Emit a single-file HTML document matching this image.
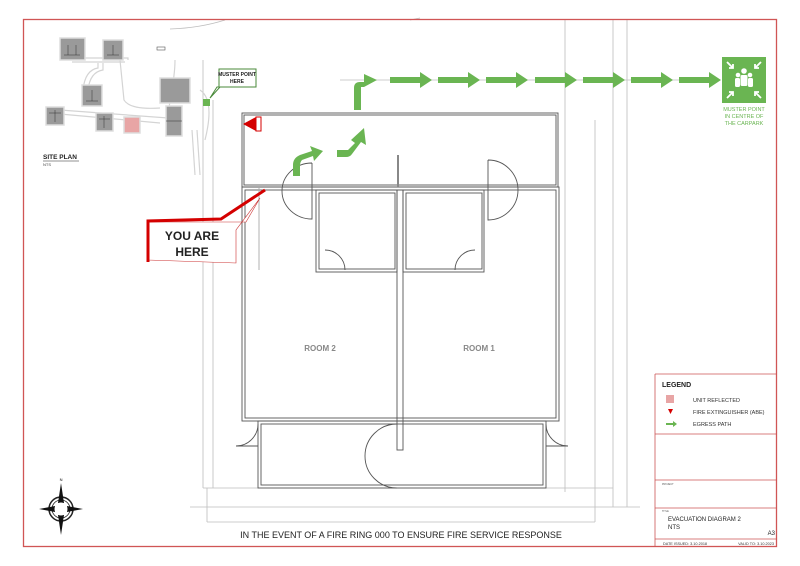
<!DOCTYPE html>
<html><head><meta charset="utf-8"><style>
html,body{margin:0;padding:0;background:#fff;}
svg{display:block;font-family:"Liberation Sans",sans-serif;}
</style></head><body>
<svg width="800" height="566" viewBox="0 0 800 566" xmlns="http://www.w3.org/2000/svg">
<rect width="800" height="566" fill="#fff"/>
<g stroke="#bdbdbd" stroke-width="0.8" fill="none">
<path d="M170 29 Q200 28 225 20"/>
<path d="M410 20 L420 18"/>
<line x1="203" y1="60" x2="203" y2="488"/>
<line x1="213" y1="100" x2="213" y2="488"/>
<line x1="565" y1="19" x2="565" y2="492"/>
<line x1="595" y1="120" x2="595" y2="522"/>
<line x1="613" y1="19" x2="613" y2="507"/>
<line x1="627" y1="19" x2="627" y2="507"/>
<line x1="203" y1="488" x2="613" y2="488"/>
<line x1="190" y1="507" x2="640" y2="507"/>
<line x1="207" y1="488" x2="207" y2="522"/>
<line x1="207" y1="522" x2="595" y2="522"/>
<line x1="340" y1="80" x2="720" y2="80"/>
</g>
<g stroke="#555" stroke-width="0.9" fill="none">
<rect x="242" y="113" width="316" height="74"/>
<rect x="244" y="115" width="312" height="70"/>
<rect x="242" y="187" width="317" height="234"/>
<rect x="245" y="190" width="311" height="228"/>
<rect x="397" y="190" width="6" height="260"/>
<rect x="316" y="190" width="81" height="82"/>
<rect x="319" y="193" width="76" height="76"/>
<rect x="403" y="190" width="81" height="82"/>
<rect x="406" y="193" width="76" height="76"/>
<rect x="258" y="421" width="288" height="67"/>
<rect x="261" y="424" width="282" height="61"/>
<line x1="398" y1="155" x2="398" y2="187" stroke-width="2" stroke="#888"/>
<path d="M312 163 A30 28 0 0 0 312 219 L312 163"/>
<path d="M488 160 A30 30 0 0 1 488 220 L488 160"/>
<path d="M345 270 A20 20 0 0 0 325 250"/>
<path d="M455 270 A20 20 0 0 1 475 250"/>
<path d="M258 424 A22 22 0 0 1 236 446 L258 446"/>
<path d="M546 424 A22 22 0 0 0 568 446 L546 446"/>
<path d="M397 424 A32 32 0 0 0 397 488"/>
<line x1="259" y1="187" x2="259" y2="270" stroke="#aaa"/>
</g>
<text x="320" y="351" font-size="8" fill="#888" text-anchor="middle" font-weight="bold">ROOM 2</text>
<text x="479" y="351" font-size="8" fill="#888" text-anchor="middle" font-weight="bold">ROOM 1</text>
<polygon points="243,124 256,117 256,131" fill="#d40000"/>
<rect x="256" y="117" width="5" height="14" fill="#fff" stroke="#d40000"/>
<g fill="#6ab552">
<path d="M293 176 L293 165 Q293 158 300 155 L312 151 L310 146 L323 151 L314 161 L313 156 L302 160 Q300 162 300 166 L300 176 Z"/>
<path d="M337 157 L337 150 L348 150 L355 143 L351 140 L364 128 L366 145 L361 142 L352 154 Q350 157 346 157 Z"/>
<path d="M354 110 L354 88 Q354 82 360 82 L364 82 L364 74 L377 80 L364 87 L361 87 L361 110 Z"/>
<polygon points="390,77 420,77 420,72 432,80 420,88 420,83 390,83"/>
<polygon points="438,77 468,77 468,72 480,80 468,88 468,83 438,83"/>
<polygon points="486,77 516,77 516,72 528,80 516,88 516,83 486,83"/>
<polygon points="535,77 565,77 565,72 577,80 565,88 565,83 535,83"/>
<polygon points="583,77 613,77 613,72 625,80 613,88 613,83 583,83"/>
<polygon points="631,77 661,77 661,72 673,80 661,88 661,83 631,83"/>
<polygon points="679,77 709,77 709,72 721,80 709,88 709,83 679,83"/>
<rect x="722" y="57" width="44" height="46"/>
</g>
<g fill="#fff">
<circle cx="744" cy="71" r="2.8"/><circle cx="738" cy="75" r="2.3"/><circle cx="750" cy="75" r="2.3"/>
<rect x="740.5" y="75" width="7" height="11" rx="1.5"/><rect x="735" y="78" width="5" height="9" rx="1.5"/><rect x="748" y="78" width="5" height="9" rx="1.5"/>
</g>
<g stroke="#fff" stroke-width="1.8" fill="none">
<path d="M727 62 L733 68 M733 64 L733 68 L729 68"/>
<path d="M761 62 L755 68 M755 64 L755 68 L759 68"/>
<path d="M727 98 L733 92 M729 92 L733 92 L733 96"/>
<path d="M761 98 L755 92 M759 92 L755 92 L755 96"/>
</g>
<text font-size="5.5" fill="#6ab552" text-anchor="middle"><tspan x="744" y="111">MUSTER POINT</tspan><tspan x="744" y="118">IN CENTRE OF</tspan><tspan x="744" y="125">THE CARPARK</tspan></text>
<!-- site plan -->
<g stroke="#d4d4d4" stroke-width="1.2" fill="none">
<path d="M78 58 L128 58 L128 60"/><path d="M72 62 L125 62"/>
<path d="M98 63 L98 68 Q85 70 83 90"/><path d="M103 63 L103 70 Q90 72 88 90"/>
<path d="M60 110 L168 118 L170 100 L160 80"/><path d="M60 114 L160 123"/>
<path d="M120 60 L124 100 Q130 110 160 108"/>
<path d="M170 100 Q175 75 175 60"/>
<path d="M197 130 L200 175"/><path d="M192 130 L195 175"/>
<path d="M200 90 Q215 100 205 140"/>
</g>
<g fill="#9a9a9a" stroke="#ddd" stroke-width="1.5">
<rect x="60" y="38" width="25" height="22"/><rect x="103" y="40" width="20" height="20"/>
<rect x="82" y="85" width="20" height="21"/><rect x="46" y="107" width="18" height="18"/>
<rect x="96" y="113" width="17" height="18"/><rect x="166" y="106" width="16" height="30"/>
<rect x="160" y="78" width="30" height="25"/>
</g>
<g stroke="#333" stroke-width="0.5" fill="none">
<path d="M64 55 L80 55 M68 45 L68 55 M76 45 L76 55"/><path d="M107 55 L119 55 M113 45 L113 55"/>
<path d="M86 101 L98 101 M92 90 L92 101"/><path d="M49 113 L61 113 M55 110 L55 122"/>
<path d="M99 119 L110 119 M104 116 L104 128"/><path d="M166 121 L182 121"/>
</g>
<rect x="124" y="117" width="16" height="16" fill="#e8a5a5" stroke="#ddd" stroke-width="1.5"/>
<rect x="157" y="47" width="8" height="3" fill="none" stroke="#555" stroke-width="0.6"/>
<rect x="203" y="99" width="7" height="7" fill="#6ab552"/>
<polygon points="219,69 256,69 256,87 220,87 210,98 217,87 219,87" fill="#fff" stroke="#4a8a3a" stroke-width="1"/>
<text font-size="5" font-weight="bold" text-anchor="middle" fill="#222"><tspan x="237" y="76">MUSTER POINT</tspan><tspan x="237" y="83">HERE</tspan></text>
<text x="43" y="159" font-size="6.5" font-weight="bold" fill="#222">SITE PLAN</text>
<line x1="43" y1="161" x2="79" y2="161" stroke="#222" stroke-width="0.6"/>
<text x="43" y="166" font-size="4" fill="#444">NTS</text>
<polygon points="148,222 148,260 236,263 236,230 260,198 246,222" fill="#fff" stroke="#c33" stroke-width="0.6"/>
<path d="M148 262 L148 221 L221 219 L265 190" fill="none" stroke="#d40000" stroke-width="3"/>
<text font-size="12" font-weight="bold" text-anchor="middle" fill="#222"><tspan x="192" y="240">YOU ARE</tspan><tspan x="192" y="256">HERE</tspan></text>
<g transform="translate(61,509)">
<circle r="12" fill="#fff" stroke="#222" stroke-width="1.5"/>
<circle r="9" fill="none" stroke="#222" stroke-width="0.8"/>
<polygon points="0,-26 3,-6 -3,-6" fill="#111"/><polygon points="0,26 3,6 -3,6" fill="#111"/>
<polygon points="-22,0 -6,3 -6,-3" fill="#111"/><polygon points="22,0 6,3 6,-3" fill="#111"/>
<circle r="6.5" fill="#fff"/>
<text x="0" y="-28" font-size="4" text-anchor="middle">N</text>
</g>
<text x="401" y="538" font-size="9" text-anchor="middle" fill="#222">IN THE EVENT OF A FIRE RING 000 TO ENSURE FIRE SERVICE RESPONSE</text>
<rect x="23.5" y="19.5" width="753" height="527" fill="none" stroke="#d05555" stroke-width="1.3"/>
<g stroke="#c55" stroke-width="0.8">
<line x1="655" y1="374" x2="777" y2="374"/>
<line x1="655" y1="434" x2="777" y2="434"/>
<line x1="655" y1="480" x2="777" y2="480"/>
<line x1="655" y1="508" x2="777" y2="508"/>
<line x1="655" y1="539" x2="777" y2="539"/>
<line x1="655" y1="374" x2="655" y2="547"/>
</g>
<text x="662" y="387" font-size="7" font-weight="bold" fill="#222">LEGEND</text>
<rect x="666" y="395" width="8" height="8" fill="#e8a5a5"/>
<text x="693" y="402" font-size="5.5" fill="#333">UNIT REFLECTED</text>
<polygon points="668,409 673,409 670.5,414" fill="#d40000"/>
<text x="693" y="414" font-size="5.5" fill="#333">FIRE EXTINGUISHER (ABE)</text>
<polygon points="666,423 673,423 673,421 677,424 673,427 673,425 666,425" fill="#6ab552"/>
<text x="693" y="426" font-size="5.5" fill="#333">EGRESS PATH</text>
<text x="662" y="485" font-size="2.5" fill="#555">PROJECT</text>
<text x="662" y="512" font-size="2.5" fill="#555">TITLE</text>
<text x="668" y="521" font-size="6" fill="#222">EVACUATION DIAGRAM 2</text>
<text x="668" y="529" font-size="6" fill="#222">NTS</text>
<text x="775" y="535" font-size="6" fill="#222" text-anchor="end">A3</text>
<text x="663" y="545" font-size="3.8" fill="#333">DATE ISSUED: 3.10.2018</text>
<text x="774" y="545" font-size="3.8" fill="#333" text-anchor="end">VALID TO: 3.10.2023</text>
</svg>
</body></html>
